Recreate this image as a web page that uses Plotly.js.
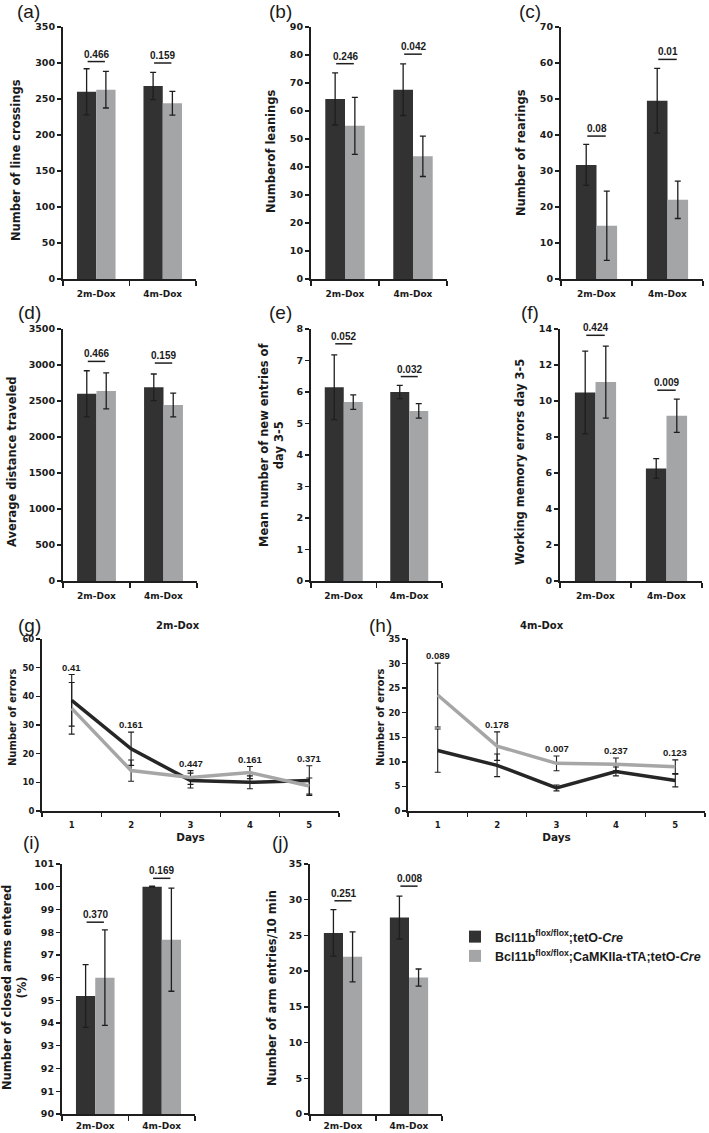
<!DOCTYPE html>
<html><head><meta charset="utf-8">
<script src="https://cdn.plot.ly/plotly-3.0.1.min.js"></script>
<style>html,body{margin:0;padding:0;background:#fff}#chart{width:709px;height:1133px}</style>
</head><body><div id="chart"></div><script>
// ---------------- DATA ----------------
const groups = ['2m-Dox', '4m-Dox'];
const days = [1, 2, 3, 4, 5];
const ctrlName = 'Bcl11b<sup>flox/flox</sup>;tetO-<i>Cre</i>';
const ckoName = 'Bcl11b<sup>flox/flox</sup>;CaMKIIa-tTA;tetO-<i>Cre</i>';

// (a) line crossings
const aCtrl = [260, 268], aCtrlErr = [32, 19];
const aCko = [263, 244], aCkoErr = [25.5, 16.5];
const aP = ['0.466', '0.159'], aPy = [302, 300];
// (b) leanings
const bCtrl = [64.3, 67.6], bCtrlErr = [9.3, 9.2];
const bCko = [54.7, 43.8], bCkoErr = [10.2, 7.2];
const bP = ['0.246', '0.042'], bPy = [76.9, 80.3];
// (c) rearings
const cCtrl = [31.7, 49.5], cCtrlErr = [5.7, 9.0];
const cCko = [14.8, 22.0], cCkoErr = [9.6, 5.2];
const cP = ['0.08', '0.01'], cPy = [39.7, 61.0];
// (d) distance
const dCtrl = [2600, 2690], dCtrlErr = [320, 185];
const dCko = [2640, 2445], dCkoErr = [250, 165];
const dP = ['0.466', '0.159'], dPy = [3050, 3027];
// (e) new entries
const eCtrl = [6.15, 6.0], eCtrlErr = [1.03, 0.21];
const eCko = [5.68, 5.4], eCkoErr = [0.23, 0.23];
const eP = ['0.052', '0.032'], ePy = [7.53, 6.49];
// (f) working memory errors
const fCtrl = [10.47, 6.25], fCtrlErr = [2.3, 0.55];
const fCko = [11.05, 9.18], fCkoErr = [2.0, 0.92];
const fP = ['0.424', '0.009'], fPy = [13.65, 10.6];
// (g) errors 2m-Dox
const gCtrl = [38.6, 21.7, 10.6, 10.0, 10.6], gCtrlErr = [9.0, 5.8, 2.6, 2.25, 5.2];
const gCko = [35.8, 14.1, 11.7, 13.4, 8.7], gCkoErr = [9.0, 3.7, 2.4, 2.1, 2.8];
const gP = ['0.41', '0.161', '0.447', '0.161', '0.371'];
// (h) errors 4m-Dox
const hCtrl = [12.3, 9.3, 4.7, 8.05, 6.2], hCtrlErr = [4.4, 2.3, 0.6, 0.9, 1.3];
const hCko = [23.6, 13.2, 9.7, 9.5, 9.0], hCkoErr = [6.5, 2.9, 1.5, 1.3, 1.4];
const hP = ['0.089', '0.178', '0.007', '0.237', '0.123'];
// (i) closed arms
const iCtrl = [95.19, 100.0], iCtrlErr = [1.38, 0.02];
const iCko = [96.0, 97.67], iCkoErr = [2.1, 2.27];
const iP = ['0.370', '0.169'], iPy = [98.44, 100.37];
// (j) arm entries
const jCtrl = [25.35, 27.5], jCtrlErr = [3.25, 3.0];
const jCko = [22.0, 19.1], jCkoErr = [3.5, 1.2];
const jP = ['0.251', '0.008'], jPy = [29.85, 31.9];

// ---------------- STYLE / LAYOUT ----------------
const W = 709, H = 1133;
const DARK = '#323232', LIGHT = '#a4a5a7', INK = '#1e1e1e';
const VER = 'DejaVu Sans, Verdana, sans-serif';
const ARI = 'Liberation Sans, Arial, sans-serif';
const TICK_FONT = {family: VER, size: 9.5, color: '#1a1a1a', weight: 700};
const XTICK_FONT = {family: VER, size: 9, color: '#1a1a1a', weight: 700};
const TICK_FONT_S = {family: VER, size: 8.5, color: '#1a1a1a', weight: 700};
const TITLE_FONT = {family: VER, size: 11.5, color: '#1a1a1a', weight: 700};
const P_FONT = {family: ARI, size: 10, color: '#1a1a1a', weight: 700};
const SIG_HALF = 0.13;

const traces = [];
const annotations = [];
const layout = {
  width: W, height: H,
  margin: {l: 0, r: 0, t: 0, b: 0},
  paper_bgcolor: '#fff', plot_bgcolor: '#fff',
  barmode: 'group', bargap: 0.42, bargroupgap: 0,
  showlegend: true,
  legend: {x: 455 / W, y: 1 - 922 / H, xanchor: 'left', yanchor: 'top',
           bgcolor: 'rgba(0,0,0,0)', tracegroupgap: 0,
           font: {family: ARI, size: 12.5, color: '#1a1a1a', weight: 700}},
  annotations: annotations
};

function names(n) {
  return n === 1 ? ['x', 'y', 'xaxis', 'yaxis'] : ['x' + n, 'y' + n, 'xaxis' + n, 'yaxis' + n];
}
function xdom(a, b) { return [a / W, b / W]; }
function ydom(top, bot) { return [1 - bot / H, 1 - top / H]; }

function yAxis(xr, box, range, dtick, font) {
  return {domain: ydom(box.y0, box.y1), anchor: xr, range: range, tick0: range[0], dtick: dtick,
    ticks: 'outside', ticklen: 4, tickwidth: 1.3, tickcolor: INK,
    showline: true, linewidth: 2, linecolor: INK, showgrid: false, zeroline: false,
    tickfont: font, fixedrange: true};
}
function yTitle(text, cx, cy, font) {
  annotations.push({xref: 'paper', yref: 'paper', x: cx / W, y: 1 - cy / H, text: text,
    textangle: -90, showarrow: false, xanchor: 'center', yanchor: 'middle', font: font || TITLE_FONT});
}
function panelLabel(t, cx, cy) {
  annotations.push({xref: 'paper', yref: 'paper', x: cx / W, y: 1 - cy / H, text: t, showarrow: false,
    xanchor: 'center', yanchor: 'middle', font: {family: ARI, size: 19, color: '#1a1a1a'}});
}

function addBarPanel(n, box, d) {
  const [xr, yr, xk, yk] = names(n);
  const idx = groups.map((_, i) => i);
  const eb = (arr) => ({type: 'data', array: arr, visible: true, color: INK, thickness: 1.3, width: 3});
  traces.push({type: 'bar', name: ctrlName, x: idx, y: d.ctrl, xaxis: xr, yaxis: yr,
    marker: {color: DARK, line: {width: 0}}, error_y: eb(d.ctrlErr),
    showlegend: n === 1, legendgroup: 'ctrl', hoverinfo: 'skip'});
  traces.push({type: 'bar', name: ckoName, x: idx, y: d.cko, xaxis: xr, yaxis: yr,
    marker: {color: LIGHT, line: {width: 0}}, error_y: eb(d.ckoErr),
    showlegend: n === 1, legendgroup: 'cko', hoverinfo: 'skip'});
  idx.forEach(i => {
    traces.push({type: 'scatter', mode: 'lines', x: [i - SIG_HALF, i + SIG_HALF], y: [d.pY[i], d.pY[i]],
      xaxis: xr, yaxis: yr, line: {color: INK, width: 1.5}, showlegend: false, hoverinfo: 'skip'});
    annotations.push({xref: xr, yref: yr, x: i, y: d.pY[i], text: d.p[i], showarrow: false,
      xanchor: 'center', yanchor: 'bottom', yshift: 0, font: P_FONT});
  });
  layout[xk] = {domain: xdom(box.x0, box.x1), anchor: yr, range: [-0.5, groups.length - 0.5],
    tickmode: 'array', tickvals: idx, ticktext: groups, ticks: '', ticklabelstandoff: box.standoff == null ? 5 : box.standoff,
    showline: true, linewidth: 2, linecolor: INK, showgrid: false, zeroline: false,
    tickfont: XTICK_FONT, fixedrange: true,
    minor: {tickmode: 'linear', tick0: -0.5, dtick: 1, ticks: 'outside', ticklen: 5, tickwidth: 1.3, tickcolor: INK, showgrid: false}};
  layout[yk] = yAxis(xr, box, d.range, d.dtick, TICK_FONT);
}

function addLinePanel(n, box, d) {
  const [xr, yr, xk, yk] = names(n);
  const eb = (arr) => ({type: 'data', array: arr, visible: true, color: INK, thickness: 1.1, width: 3});
  traces.push({type: 'scatter', mode: 'lines', name: ctrlName, x: days, y: d.ctrl, xaxis: xr, yaxis: yr,
    line: {color: '#262626', width: 3.5}, error_y: eb(d.ctrlErr), showlegend: false, hoverinfo: 'skip'});
  traces.push({type: 'scatter', mode: 'lines', name: ckoName, x: days, y: d.cko, xaxis: xr, yaxis: yr,
    line: {color: '#a6a6a6', width: 3.5}, error_y: eb(d.ckoErr), showlegend: false, hoverinfo: 'skip'});
  days.forEach((dy, i) => {
    const top = Math.max(d.ctrl[i] + d.ctrlErr[i], d.cko[i] + d.ckoErr[i]);
    annotations.push({xref: xr, yref: yr, x: dy, y: top, text: d.p[i], showarrow: false,
      xanchor: 'center', yanchor: 'bottom', yshift: 0, font: {family: ARI, size: 9.5, color: '#1a1a1a', weight: 700}});
  });
  layout[xk] = {domain: xdom(box.x0, box.x1), anchor: yr, range: [0.5, days.length + 0.5],
    tickmode: 'array', tickvals: days, ticktext: days.map(String), ticks: '', ticklabelstandoff: 5,
    showline: true, linewidth: 2, linecolor: INK, showgrid: false, zeroline: false,
    tickfont: TICK_FONT_S, fixedrange: true,
    title: {text: 'Days', font: {family: VER, size: 10.5, color: '#1a1a1a', weight: 700}, standoff: 4},
    minor: {tickmode: 'linear', tick0: 0.5, dtick: 1, ticks: 'outside', ticklen: 4, tickwidth: 1.3, tickcolor: INK, showgrid: false}};
  layout[yk] = yAxis(xr, box, d.range, d.dtick, TICK_FONT_S);
  annotations.push({xref: 'paper', yref: 'paper', x: d.titleX / W, y: 1 - 625 / H, text: d.title,
    showarrow: false, xanchor: 'center', yanchor: 'middle', font: {family: VER, size: 10, color: '#1a1a1a', weight: 700}});
}

// ---------------- PANELS ----------------
addBarPanel(1, {x0: 63, x1: 196, y0: 27, y1: 279},
  {ctrl: aCtrl, ctrlErr: aCtrlErr, cko: aCko, ckoErr: aCkoErr, p: aP, pY: aPy, range: [0, 350], dtick: 50});
addBarPanel(2, {x0: 311, x1: 447, y0: 27, y1: 279},
  {ctrl: bCtrl, ctrlErr: bCtrlErr, cko: bCko, ckoErr: bCkoErr, p: bP, pY: bPy, range: [0, 90], dtick: 10});
addBarPanel(3, {x0: 561, x1: 703, y0: 27, y1: 279},
  {ctrl: cCtrl, ctrlErr: cCtrlErr, cko: cCko, ckoErr: cCkoErr, p: cP, pY: cPy, range: [0, 70], dtick: 10});
addBarPanel(4, {x0: 63, x1: 197, y0: 329, y1: 581},
  {ctrl: dCtrl, ctrlErr: dCtrlErr, cko: dCko, ckoErr: dCkoErr, p: dP, pY: dPy, range: [0, 3500], dtick: 500});
addBarPanel(5, {x0: 311, x1: 442, y0: 329, y1: 581},
  {ctrl: eCtrl, ctrlErr: eCtrlErr, cko: eCko, ckoErr: eCkoErr, p: eP, pY: ePy, range: [0, 8], dtick: 1});
addBarPanel(6, {x0: 560, x1: 702, y0: 329, y1: 581},
  {ctrl: fCtrl, ctrlErr: fCtrlErr, cko: fCko, ckoErr: fCkoErr, p: fP, pY: fPy, range: [0, 14], dtick: 2});
addLinePanel(7, {x0: 42, x1: 339, y0: 639, y1: 811},
  {ctrl: gCtrl, ctrlErr: gCtrlErr, cko: gCko, ckoErr: gCkoErr, p: gP, range: [0, 60], dtick: 10, title: '2m-Dox', titleX: 178});
addLinePanel(8, {x0: 408, x1: 705, y0: 639, y1: 811},
  {ctrl: hCtrl, ctrlErr: hCtrlErr, cko: hCko, ckoErr: hCkoErr, p: hP, range: [0, 35], dtick: 5, title: '4m-Dox', titleX: 542});
addBarPanel(9, {x0: 62, x1: 195, y0: 864, y1: 1114, standoff: 2},
  {ctrl: iCtrl, ctrlErr: iCtrlErr, cko: iCko, ckoErr: iCkoErr, p: iP, pY: iPy, range: [90, 101], dtick: 1});
addBarPanel(10, {x0: 310, x1: 442, y0: 864, y1: 1114, standoff: 2},
  {ctrl: jCtrl, ctrlErr: jCtrlErr, cko: jCko, ckoErr: jCkoErr, p: jP, pY: jPy, range: [0, 35], dtick: 5});

// axis titles
yTitle('Number of line crossings', 16, 160);
yTitle('Numberof leanings', 271, 152);
yTitle('Number of rearings', 521, 153);
yTitle('Average distance traveled', 12, 462);
yTitle('Mean number of new entries of<br>day 3-5', 271, 445);
yTitle('Working memory errors day 3-5', 520, 462);
yTitle('Number of errors', 12, 718, {family: VER, size: 10, color: '#1a1a1a', weight: 700});
yTitle('Number of errors', 380, 718, {family: VER, size: 10, color: '#1a1a1a', weight: 700});
yTitle('Number of closed arms entered<br>(%)', 14, 988);
yTitle('Number of arm entries/10 min', 272, 988);

// panel letters
panelLabel('(a)', 28, 12); panelLabel('(b)', 280, 12); panelLabel('(c)', 530, 12);
panelLabel('(d)', 29, 313); panelLabel('(e)', 280, 313); panelLabel('(f)', 530, 313);
panelLabel('(g)', 29, 625); panelLabel('(h)', 380, 625);
panelLabel('(i)', 31, 842); panelLabel('(j)', 280, 842);

Plotly.newPlot('chart', traces, layout, {displayModeBar: false, staticPlot: true});
</script></body></html>
